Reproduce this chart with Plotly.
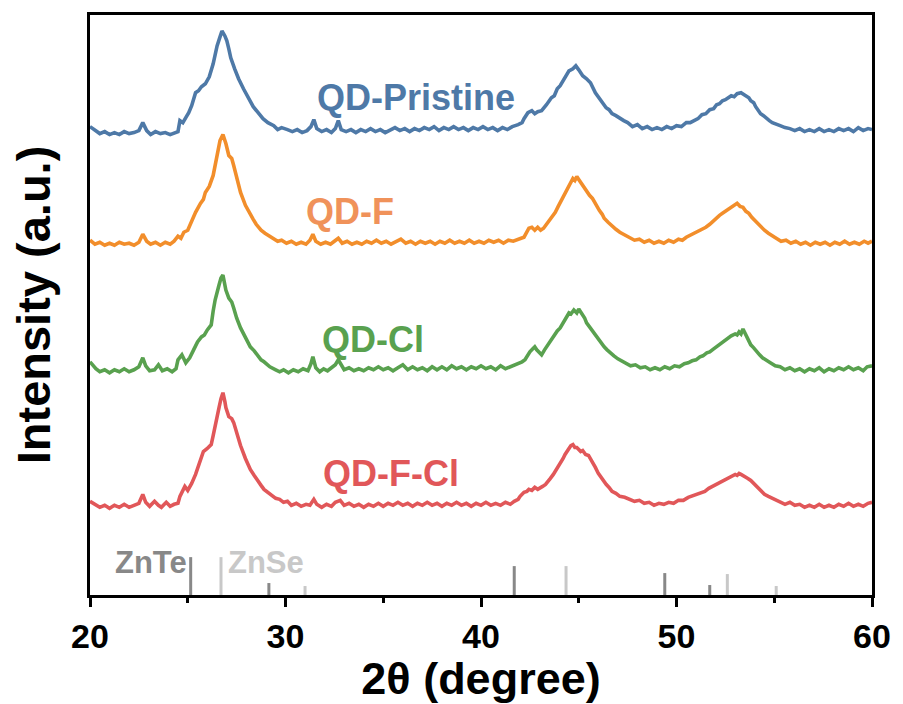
import plotly.graph_objects as go

# ---- data: (2theta in degree, stacked intensity in a.u.) ----
pristine_pts = [
    (20.0,470),(20.25,466),(20.5,463),(20.75,465),(21.0,462),(21.25,464),(21.5,462),(21.75,465),(22.0,463),(22.25,464),
    (22.5,466),(22.7,474),(22.9,466),(23.1,462),(23.35,465),(23.6,463),(23.85,464),(24.1,462),(24.35,464),(24.5,465),
    (24.6,476),(24.75,474),(24.9,479),(25.05,484),(25.2,491),(25.4,504),(25.55,506),(25.7,510),(25.9,513),(26.1,520),
    (26.3,533),(26.5,551),(26.65,560),(26.75,566),(26.9,561),(27.0,556),(27.1,548),(27.2,539),(27.4,528),(27.6,518),
    (27.85,508),(28.1,498),(28.35,490),(28.6,484),(28.85,478),(29.1,474),(29.4,471),(29.6,467),(29.8,469),
    (30.1,467),(30.35,465),(30.6,467),(30.85,464),(31.1,466),(31.3,470),(31.45,477),(31.6,468),(31.85,465),(32.1,467),
    (32.35,464),(32.55,468),(32.7,476),(32.85,467),(33.1,465),(33.35,467),(33.6,464),(33.85,467),(34.1,465),(34.35,468),
    (34.6,465),(34.85,467),(35.1,464),(35.35,467),(35.6,469),(35.85,466),(36.1,468),(36.35,465),(36.6,468),(36.85,466),
    (37.1,469),(37.35,467),(37.6,470),(37.85,466),(38.1,469),(38.35,467),(38.6,470),(38.85,467),(39.1,469),(39.35,466),
    (39.6,469),(39.85,467),(40.1,470),(40.35,467),(40.6,469),(40.85,466),(41.1,469),(41.35,467),(41.6,470),
    (41.9,472),(42.1,474),(42.2,478),(42.4,484),(42.6,486),(42.75,483),(42.9,485),(43.1,486),(43.35,492),(43.6,499),
    (43.75,501),(43.9,508),(44.05,511),(44.2,516),(44.35,521),(44.5,526),(44.7,528),(44.85,531),(45.0,527),(45.2,521),
    (45.4,518),(45.6,514),(45.85,504),(46.1,497),(46.25,494),(46.4,489),(46.55,487),(46.7,483),(46.9,481),(47.1,478),
    (47.3,476),(47.5,474),(47.75,470),(48.0,472),(48.25,468),(48.5,470),(48.75,467),(49.0,469),(49.25,467),(49.5,470),
    (49.75,468),(50.0,471),(50.25,470),(50.5,474),(50.7,474),(50.9,476),(51.1,478),(51.3,482),(51.5,483),(51.7,487),
    (51.9,488),(52.05,492),(52.2,493),(52.35,496),(52.5,497),(52.65,499),(52.8,501),(52.95,500),(53.1,503),(53.3,504),
    (53.45,502),(53.55,501),(53.7,499),(53.8,496),(53.95,494),(54.05,490),(54.2,486),(54.3,483),(54.45,481),(54.6,478),
    (54.75,476),(54.9,474),(55.1,472),(55.3,471),(55.55,469),(55.8,468),(56.05,466),(56.3,468),(56.55,465),(56.8,467),
    (57.05,465),(57.3,468),(57.55,465),(57.8,467),(58.05,465),(58.3,468),(58.55,466),(58.8,468),(59.05,465),(59.3,469),
    (59.55,466),(59.8,468),(60.0,467),
]

f_pts = [
    (20.0,356),(20.25,352),(20.5,354),(20.75,351),(21.0,353),(21.25,351),(21.5,354),(21.75,352),(22.0,353),(22.25,351),
    (22.5,354),(22.7,362),(22.9,355),(23.1,352),(23.35,354),(23.6,351),(23.85,354),(24.1,352),(24.3,355),(24.5,360),
    (24.65,358),(24.8,364),(25.0,366),(25.1,371),(25.2,374),(25.4,384),(25.65,393),(25.8,397),(25.9,404),(26.1,410),
    (26.3,421),(26.5,441),(26.65,456),(26.8,462),(26.95,453),(27.1,441),(27.25,438),(27.35,431),(27.5,418),(27.7,404),
    (27.95,391),(28.2,381),(28.35,377),(28.5,372),(28.75,366),(28.95,363),(29.1,361),(29.4,358),(29.6,355),(29.8,356),
    (30.05,353),(30.3,355),(30.55,352),(30.8,354),(31.05,352),(31.25,356),(31.4,362),(31.55,355),(31.8,352),(32.05,354),
    (32.3,352),(32.5,355),(32.7,358),(32.9,353),(33.15,355),(33.4,352),(33.65,354),(33.9,352),(34.15,355),(34.4,353),
    (34.65,356),(34.9,353),(35.15,355),(35.4,352),(35.65,355),(35.9,357),(36.15,353),(36.4,355),(36.65,352),(36.9,355),
    (37.15,353),(37.4,355),(37.65,352),(37.9,355),(38.15,353),(38.4,356),(38.65,353),(38.9,355),(39.15,353),(39.4,356),
    (39.65,353),(39.9,355),(40.15,353),(40.4,356),(40.65,354),(40.9,356),(41.15,353),(41.4,356),(41.65,355),(41.85,357),
    (42.05,358),(42.2,359),(42.35,364),(42.45,368),(42.6,369),(42.75,366),(42.9,369),(43.05,366),(43.2,368),(43.35,372),
    (43.5,376),(43.65,379),(43.8,384),(43.95,390),(44.05,394),(44.2,399),(44.3,404),(44.45,409),(44.55,413),(44.7,418),
    (44.8,416),(44.9,420),(45.0,417),(45.1,414),(45.2,412),(45.3,409),(45.45,405),(45.55,401),(45.7,398),(45.8,394),
    (45.95,390),(46.05,386),(46.2,382),(46.3,378),(46.5,374),(46.7,370),(46.9,367),(47.1,364),(47.35,361),(47.6,359),
    (47.85,356),(48.1,357),(48.35,354),(48.6,356),(48.85,353),(49.1,355),(49.35,353),(49.6,356),(49.85,354),(50.1,357),
    (50.3,356),(50.5,359),(50.7,361),(50.9,362),(51.1,365),(51.3,366),(51.5,369),(51.7,372),(51.85,375),(52.0,377),
    (52.2,381),(52.35,383),(52.5,385),(52.65,386),(52.8,388),(52.95,390),(53.1,393),(53.25,390),(53.4,389),(53.55,385),
    (53.7,383),(53.85,379),(54.0,376),(54.15,372),(54.3,369),(54.5,366),(54.7,363),(54.9,360),(55.1,358),(55.35,355),
    (55.6,356),(55.85,353),(56.1,355),(56.35,352),(56.6,354),(56.85,351),(57.1,354),(57.35,352),(57.6,354),(57.85,351),
    (58.1,354),(58.35,352),(58.6,355),(58.85,352),(59.1,354),(59.35,352),(59.6,355),(59.8,353),(60.0,355),
]

cl_pts = [
    (20.0,234),(20.15,230),(20.3,227),(20.5,224),(20.75,226),(21.0,223),(21.25,226),(21.5,224),(21.75,227),(22.0,224),
    (22.25,226),(22.5,229),(22.7,238),(22.85,230),(23.05,225),(23.3,226),(23.5,231),(23.7,225),(23.95,227),(24.2,224),
    (24.4,227),(24.5,236),(24.7,241),(24.9,233),(25.1,238),(25.3,246),(25.5,254),(25.7,259),(25.85,261),(26.0,266),
    (26.2,271),(26.3,285),(26.4,296),(26.6,311),(26.7,318),(26.8,321),(26.9,312),(26.95,306),(27.1,298),(27.25,294),
    (27.35,288),(27.5,278),(27.7,268),(27.95,258),(28.2,249),(28.4,245),(28.55,241),(28.75,236),(28.9,234),(29.2,229),
    (29.5,226),(29.7,224),(29.9,226),(30.15,223),(30.4,226),(30.65,224),(30.9,227),(31.15,225),(31.3,232),(31.4,239),
    (31.55,228),(31.75,224),(31.95,227),(32.15,225),(32.35,228),(32.55,231),(32.7,236),(32.85,230),(33.0,226),(33.25,228),
    (33.5,225),(33.75,227),(34.0,225),(34.25,228),(34.5,226),(34.75,229),(35.0,226),(35.25,228),(35.5,225),(35.75,228),
    (36.0,231),(36.25,226),(36.5,229),(36.75,226),(37.0,228),(37.25,225),(37.5,229),(37.75,226),(38.0,229),(38.25,226),
    (38.5,230),(38.75,227),(39.0,229),(39.25,226),(39.5,229),(39.75,227),(40.0,230),(40.25,227),(40.5,229),(40.75,226),
    (41.0,230),(41.25,227),(41.5,229),(41.7,230),(41.9,232),(42.1,234),(42.25,236),(42.4,241),(42.5,244),(42.65,247),
    (42.75,249),(42.85,246),(42.95,244),(43.1,241),(43.25,246),(43.35,249),(43.5,253),(43.6,256),(43.75,261),(43.9,265),
    (44.05,268),(44.2,273),(44.35,278),(44.5,283),(44.6,282),(44.75,286),(44.9,283),(45.0,287),(45.1,284),(45.2,281),
    (45.3,278),(45.4,273),(45.55,269),(45.7,264),(45.85,261),(46.0,256),(46.15,253),(46.3,249),(46.45,246),(46.6,243),
    (46.8,240),(47.0,237),(47.2,235),(47.4,233),(47.65,230),(47.9,231),(48.15,228),(48.4,229),(48.65,226),(48.9,228),
    (49.15,226),(49.4,229),(49.65,227),(49.9,230),(50.15,229),(50.4,232),(50.6,233),(50.8,235),(51.0,236),(51.2,239),
    (51.35,240),(51.55,243),(51.7,244),(51.9,247),(52.1,250),(52.3,253),(52.5,256),(52.65,258),(52.8,260),(53.0,262),
    (53.1,261),(53.2,264),(53.3,262),(53.4,267),(53.5,263),(53.6,258),(53.7,256),(53.8,251),(53.95,248),(54.1,244),
    (54.25,241),(54.4,238),(54.6,235),(54.8,233),(55.05,230),(55.3,229),(55.55,226),(55.8,228),(56.05,225),(56.3,227),
    (56.55,224),(56.8,227),(57.05,225),(57.3,228),(57.55,224),(57.8,227),(58.05,225),(58.3,228),(58.55,226),(58.8,229),
    (59.05,226),(59.3,228),(59.55,225),(59.75,229),(60.0,230),
]

fcl_pts = [
    (20.0,94),(20.15,92),(20.3,91),(20.5,88),(20.75,90),(21.0,87),(21.25,90),(21.5,88),(21.75,91),(22.0,88),
    (22.25,90),(22.5,92),(22.7,101),(22.85,93),(23.05,89),(23.3,94),(23.5,90),(23.65,88),(23.9,93),(24.1,89),
    (24.3,91),(24.5,92),(24.6,99),(24.7,103),(24.85,109),(25.0,105),(25.2,112),(25.4,121),(25.6,134),(25.8,144),
    (26.0,147),(26.2,151),(26.3,160),(26.4,171),(26.6,188),(26.7,197),(26.8,203),(26.9,194),(26.95,188),(27.1,179),
    (27.25,177),(27.35,173),(27.5,163),(27.7,150),(27.95,137),(28.2,126),(28.4,120),(28.55,115),(28.75,110),(28.9,106),
    (29.1,103),(29.3,100),(29.5,97),(29.7,96),(29.9,93),(30.1,94),(30.3,90),(30.55,92),(30.8,89),(31.05,91),
    (31.25,90),(31.45,96),(31.6,91),(31.85,88),(32.1,91),(32.35,89),(32.55,93),(32.8,95),(33.0,90),(33.25,92),
    (33.5,89),(33.75,91),(34.0,88),(34.25,91),(34.5,89),(34.75,92),(35.0,89),(35.25,92),(35.5,90),(35.75,93),
    (36.0,90),(36.25,92),(36.5,89),(36.75,92),(37.0,90),(37.25,93),(37.5,90),(37.75,92),(38.0,89),(38.25,92),
    (38.5,90),(38.75,93),(39.0,90),(39.25,92),(39.5,89),(39.75,92),(40.0,90),(40.25,93),(40.5,90),(40.75,92),
    (41.0,90),(41.25,93),(41.5,91),(41.7,94),(41.9,96),(42.0,99),(42.2,103),(42.35,104),(42.45,106),(42.6,105),
    (42.75,108),(42.9,106),(43.0,107),(43.15,109),(43.3,111),(43.45,114),(43.55,117),(43.7,121),(43.8,124),(43.95,129),
    (44.05,133),(44.2,137),(44.3,141),(44.4,145),(44.5,147),(44.6,150),(44.7,151),(44.8,148),(44.9,148),(45.0,146),
    (45.1,144),(45.2,145),(45.35,141),(45.5,140),(45.6,136),(45.75,131),(45.85,128),(46.0,122),(46.1,119),(46.25,115),
    (46.4,111),(46.55,108),(46.7,104),(46.9,102),(47.1,99),(47.35,98),(47.6,96),(47.85,94),(48.1,95),(48.35,92),
    (48.6,93),(48.85,90),(49.1,92),(49.35,91),(49.6,93),(49.85,92),(50.1,95),(50.35,95),(50.6,98),(50.85,100),
    (51.05,101),(51.25,103),(51.45,104),(51.65,107),(51.85,109),(52.05,111),(52.2,113),(52.4,115),(52.6,117),(52.8,119),
    (53.0,121),(53.1,120),(53.2,122),(53.3,121),(53.4,120),(53.55,118),(53.65,117),(53.8,115),(53.9,113),(54.05,110),
    (54.2,107),(54.35,104),(54.5,101),(54.7,99),(54.9,97),(55.1,95),(55.3,94),(55.55,91),(55.8,93),(56.05,90),
    (56.3,91),(56.55,88),(56.8,90),(57.05,88),(57.3,91),(57.55,88),(57.8,90),(58.05,88),(58.3,91),(58.55,89),
    (58.8,92),(59.05,89),(59.3,91),(59.55,89),(59.8,92),(60.0,93),
]

series_names = ["QD-Pristine", "QD-F", "QD-Cl", "QD-F-Cl"]
series_pts = [pristine_pts, f_pts, cl_pts, fcl_pts]
series_colors = ["#4e79a7", "#f28e2b", "#59a14f", "#e15759"]
label_colors = ["#4e79a7", "#f0925a", "#59a14f", "#e15759"]

# reference patterns (stick positions and relative heights)
znte_pos = [25.15, 29.15, 41.7, 49.4, 51.7]
znte_h = [38, 12, 29, 22, 10]
znse_pos = [26.7, 31.0, 44.35, 52.6, 55.1]
znse_h = [38, 9, 29, 21, 9]

x_ticks = [20, 30, 40, 50, 60]
x_minor_ticks = [25, 35, 45, 55]

FONT = "Liberation Sans"

fig = go.Figure()

for name, pts, c in zip(series_names, series_pts, series_colors):
    fig.add_trace(go.Scatter(x=[p[0] for p in pts], y=[p[1] for p in pts], mode="lines", name=name,
                             line=dict(color=c, width=3.6), showlegend=False))

def sticks(pos, h):
    xs, ys = [], []
    for p, v in zip(pos, h):
        xs += [p, p, None]
        ys += [0, v, None]
    return xs, ys

for pos, h, c, nm in [(znte_pos, znte_h, "#888888", "ZnTe"), (znse_pos, znse_h, "#c8c8c8", "ZnSe")]:
    sx, sy = sticks(pos, h)
    fig.add_trace(go.Scatter(x=sx, y=sy, mode="lines", name=nm,
                             line=dict(color=c, width=3), showlegend=False))

# curve labels
label_pos = [(36.67, 499), (33.32, 385), (34.49, 256), (35.4, 122)]
for name, (lx, ly), c in zip(series_names, label_pos, label_colors):
    fig.add_annotation(x=lx, y=ly, text=name, showarrow=False,
                       font=dict(family=FONT, size=36, color=c, weight="bold"))

fig.add_annotation(x=25.05, y=33, text="ZnTe", showarrow=False, xanchor="right",
                   font=dict(family=FONT, size=31, color="#888888", weight="bold"))
fig.add_annotation(x=26.95, y=33, text="ZnSe", showarrow=False, xanchor="left",
                   font=dict(family=FONT, size=31, color="#c8c8c8", weight="bold"))

fig.update_layout(
    width=903, height=704,
    margin=dict(l=90, r=26, t=14, b=108),
    plot_bgcolor="white", paper_bgcolor="white",
    font=dict(family=FONT, color="black"),
    xaxis=dict(range=[20, 60], tickvals=x_ticks, ticks="outside", ticklen=9, tickwidth=3,
               tickcolor="black", showline=True, linewidth=3, linecolor="black", mirror=True,
               showgrid=False, zeroline=False,
               tickfont=dict(family=FONT, size=34, color="black", weight="bold"),
               minor=dict(tickvals=x_minor_ticks, ticks="outside", ticklen=5, tickwidth=3, tickcolor="black"),
               title=dict(text="2θ (degree)", standoff=6,
                          font=dict(family=FONT, size=45, color="black", weight="bold"))),
    yaxis=dict(range=[0, 582], showticklabels=False, ticks="", showline=True, linewidth=3,
               linecolor="black", mirror=True, showgrid=False, zeroline=False,
               title=dict(text="Intensity (a.u.)", standoff=22,
                          font=dict(family=FONT, size=47, color="black", weight="bold"))),
)

fig.write_html("out.html")
